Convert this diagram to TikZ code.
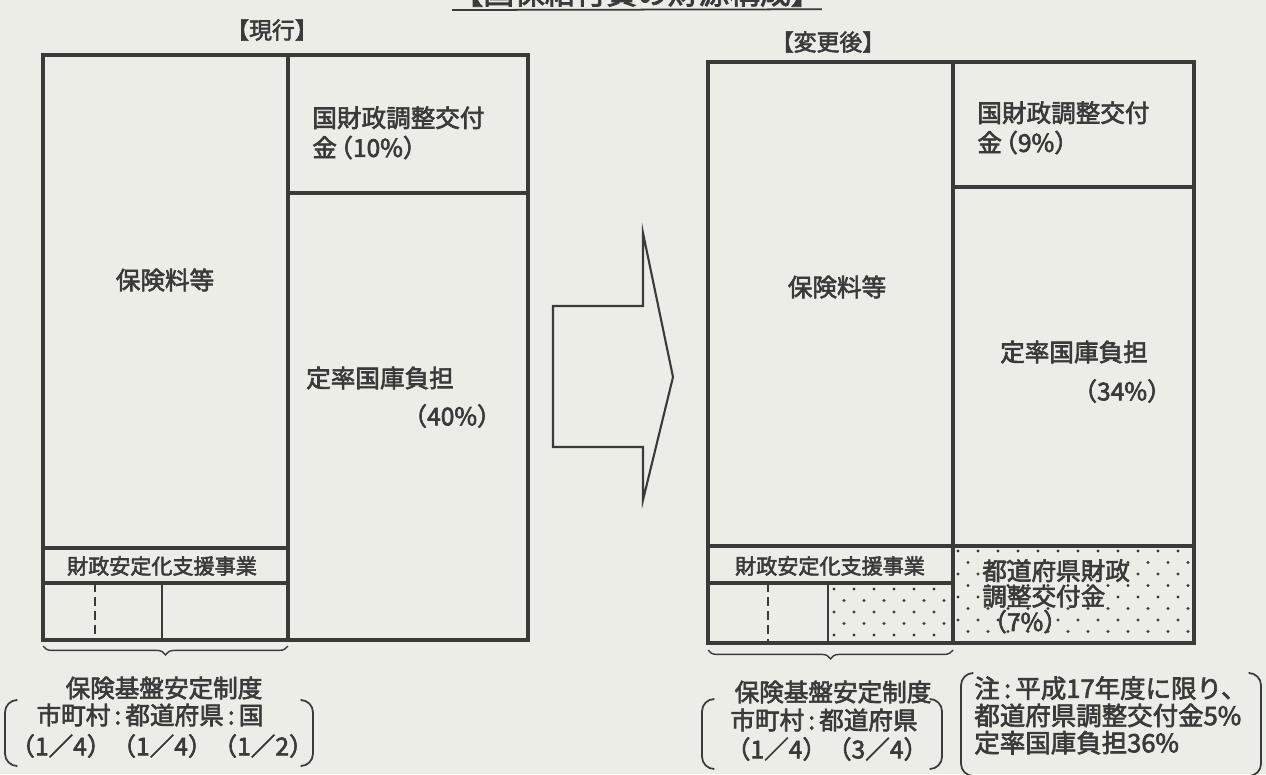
\documentclass[tikz,border=0pt]{standalone}
\usepackage{fontspec}
\setmainfont{Noto Sans CJK JP}[FakeBold=2.5]
\usetikzlibrary{decorations.pathreplacing}
\definecolor{paper}{RGB}{237,237,231}
\definecolor{ink}{RGB}{58,58,58}
\tikzset{
  frame/.style={draw=ink, line width=2pt},
  txt/.style={text=ink, inner sep=0pt, font=\fontsize{14}{17}\selectfont},
  smalltxt/.style={text=ink, inner sep=0pt, font=\fontsize{12}{14}\selectfont},
  headtxt/.style={text=ink, inner sep=0pt, font=\fontsize{13}{15}\selectfont},
  underbrace/.style={draw=ink, line width=0.8pt, decorate, decoration={brace, mirror, amplitude=5pt}},
  paren/.style={draw=ink, line width=1pt, rounded corners=7pt},
}

\begin{document}
\begin{tikzpicture}[x=0.02cm, y=-0.02cm]
\fill[paper] (0,0) rectangle (1266,774);
\useasboundingbox (0,0) rectangle (1266,774);

% title (cut by the page edge)
\node[text=ink, inner sep=0pt, font=\fontsize{17.5}{20}\selectfont, anchor=base] (title) at (637,4) {【国保給付費の財源構成】};
\draw[ink, line width=1pt] (title.base west) ++(0,6) -- ([yshift=-3pt]title.base east);

% ---------- current ----------
\node[headtxt] (cur) at (272,30) {【現行】};
\draw[frame] (43,55) rectangle (528,640);
\draw[frame] (288,55) -- (288,640);
\draw[frame] (288,193) -- (528,193);
\draw[frame] (43,548) -- (288,548);
\draw[frame] (43,583) -- (288,583);
\draw[ink, line width=1.5pt, dash pattern=on 5pt off 3pt] (95,583) -- (95,640);
\draw[ink, line width=1.5pt] (162,583) -- (162,640);

\node[txt] (prem1) at (165,280) {保険料等};
\node[txt, align=left, anchor=north west] (adj1) at (312,106) {国財政調整交付\\金\kern-0.35em（10\%）};
\node[txt] (rate1) at (380,378) {定率国庫負担};
\node[txt, anchor=east] (pct1) at (502,416) {（40\%）};
\node[smalltxt] (sup1) at (162,566) {財政安定化支援事業};

\coordinate (b1l) at (43,646);
\coordinate (b1r) at (288,646);
\draw[underbrace] (b1l) -- (b1r);
\node[txt] (base1) at (164,688) {保険基盤安定制度};
\node[txt] (ratio1) at (150,715) {市町村\,:\,都道府県\,:\,国};
\node[txt] (frac1) at (162,746) {（1／4）（1／4）（1／2）};
\draw[paren] (16,700) -- (5,700) -- (5,766) -- (16,766);
\draw[paren] (302,700) -- (313,700) -- (313,766) -- (302,766);

% ---------- arrow ----------
\draw[ink, line width=1.2pt, line join=miter] (553,306) -- (643,306) -- (643,233) -- (673,377)
  -- (643,500) -- (643,447) -- (553,447) -- cycle;

% ---------- after ----------
\node[headtxt] (new) at (828,42) {【変更後】};
\begin{scope}
  \clip (953,546) rectangle (1194,643);
  \foreach \j in {0,...,8}
    \foreach \i in {0,...,12}
      \fill[ink] ({958+\i*20+mod(\j,2)*10},{551+\j*11.5}) circle (0.9pt);
\end{scope}
\begin{scope}
  \clip (828,583) rectangle (953,642);
  \foreach \j in {0,...,5}
    \foreach \i in {0,...,6}
      \fill[ink] ({834+\i*20+mod(\j,2)*10},{589+\j*11.5}) circle (0.9pt);
\end{scope}
\draw[frame] (708,62) rectangle (1194,643);
\draw[frame] (953,62) -- (953,643);
\draw[frame] (953,187) -- (1194,187);
\draw[frame] (953,546) -- (1194,546);
\draw[frame] (708,546) -- (953,546);
\draw[frame] (708,583) -- (953,583);
\draw[ink, line width=1.5pt, dash pattern=on 5pt off 3pt] (768,583) -- (768,643);
\draw[ink, line width=1.5pt] (828,583) -- (828,643);

\node[txt] (prem2) at (837,287) {保険料等};
\node[txt, align=left, anchor=north west] (adj2) at (977,101) {国財政調整交付\\金\kern-0.35em（9\%）};
\node[txt] (rate2) at (1074,352) {定率国庫負担};
\node[txt, anchor=east] (pct2) at (1172,391) {（34\%）};
\node[smalltxt] (sup2) at (830,566) {財政安定化支援事業};
\node[txt, align=left, anchor=north west, font=\fontsize{14}{14.5}\selectfont] (pref) at (982,559) {都道府県財政\\調整交付金\\（7\%）};

\coordinate (b2l) at (708,650);
\coordinate (b2r) at (953,650);
\draw[underbrace] (b2l) -- (b2r);
\node[txt] (base2) at (833,692) {保険基盤安定制度};
\node[txt] (ratio2) at (824,720) {市町村\,:\,都道府県};
\node[txt] (frac2) at (827,749) {（1／4）（3／4）};
\draw[paren] (714,699) -- (702,699) -- (702,769) -- (714,769);
\draw[paren] (930,699) -- (942,699) -- (942,769) -- (930,769);

\node[txt, align=left, anchor=north west, font=\fontsize{14.5}{15.5}\selectfont] (note) at (974,676) {注\,:\,平成17年度に限り、\\都道府県調整交付金5\%\\定率国庫負担36\%};
\draw[paren] (972,673) -- (961,673) -- (961,776) -- (972,776);
\draw[paren] (1250,673) -- (1261,673) -- (1261,776) -- (1250,776);
\end{tikzpicture}
\end{document}
